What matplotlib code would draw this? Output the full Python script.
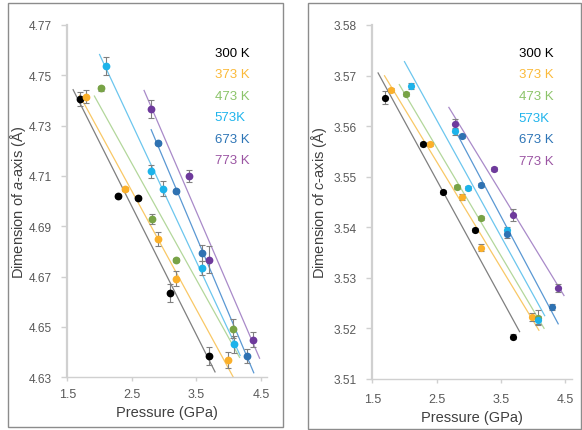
import numpy as np
import matplotlib
matplotlib.use("Agg")
import matplotlib.pyplot as plt
from matplotlib.patches import Rectangle

plt.rcParams['font.family'] = ['Liberation Sans', 'DejaVu Sans']
plt.rcParams['mathtext.fontset'] = 'custom'
plt.rcParams['mathtext.rm'] = 'Liberation Sans'
plt.rcParams['mathtext.it'] = 'Liberation Sans:italic'

# ---- data ----
temps = ["300 K", "373 K", "473 K", "573K", "673 K", "773 K"]

P300 = [1.69, 2.29, 2.60, 3.09, 3.69]
P373 = [1.79, 2.39, 2.90, 3.19, 3.99]
P473 = [2.02, 2.81, 3.19, 4.07]
P573 = [2.10, 2.79, 2.99, 3.59, 4.08]
P673 = [2.90, 3.19, 3.59, 4.29]
P773 = [2.79, 3.39, 3.69, 4.38]

a300 = [4.7406, 4.7019, 4.7013, 4.6634, 4.6385]
a373 = [4.7415, 4.7048, 4.6851, 4.6692, 4.6367]
a473 = [4.7448, 4.6928, 4.6766, 4.6493]
a573 = [4.7537, 4.7118, 4.7050, 4.6733, 4.6431]
a673 = [4.7233, 4.7041, 4.6794, 4.6385]
a773 = [4.7366, 4.7101, 4.6768, 4.6450]

ea300 = [0.0029, 0.0008, 0.0008, 0.0035, 0.0036]
ea373 = [0.0025, 0.0008, 0.0028, 0.0030, 0.0032]
ea473 = [0.0010, 0.0020, 0.0008, 0.0037]
ea573 = [0.0037, 0.0027, 0.0030, 0.0028, 0.0034]
ea673 = [0.0008, 0.0008, 0.0033, 0.0027]
ea773 = [0.0035, 0.0024, 0.0053, 0.0029]

c300 = [3.5656, 3.5564, 3.5469, 3.5395, 3.5184]
c373 = [3.5672, 3.5565, 3.5460, 3.5360, 3.5223]
c473 = [3.5664, 3.5480, 3.5419, 3.5221]
c573 = [3.5679, 3.5590, 3.5478, 3.5395, 3.5217]
c673 = [3.5581, 3.5484, 3.5387, 3.5242]
c773 = [3.5604, 3.5515, 3.5424, 3.5280]

ec300 = [0.0013, 0.0004, 0.0004, 0.0004, 0.0004]
ec373 = [0.0004, 0.0004, 0.0006, 0.0006, 0.0008]
ec473 = [0.0004, 0.0004, 0.0004, 0.0015]
ec573 = [0.0006, 0.0007, 0.0004, 0.0006, 0.0008]
ec673 = [0.0004, 0.0004, 0.0008, 0.0006]
ec773 = [0.0010, 0.0004, 0.0012, 0.0008]

trend_extend = 0.1  # GPa forward/backward forecast of trendlines

pressures = [P300, P373, P473, P573, P673, P773]
a_vals = [a300, a373, a473, a573, a673, a773]
a_errs = [ea300, ea373, ea473, ea573, ea673, ea773]
c_vals = [c300, c373, c473, c573, c673, c773]
c_errs = [ec300, ec373, ec473, ec573, ec673, ec773]

# ---- styles ----
marker_colors = ['#000000', '#FBB02A', '#78A346', '#1DB3EA', '#2F72B2', '#6E3A9C']
line_colors = ['#7F7F7F', '#F9C866', '#B3D79B', '#6CC6EE', '#5A98D3', '#A98AC9']
text_colors = ['#000000', '#FBBA3A', '#8CC46A', '#1FB4EC', '#2E75B6', '#9B55A3']
tick_color = '#595959'
axis_color = '#D0D0D0'

W, H = 582, 431
fig = plt.figure(figsize=(W / 100, H / 100), dpi=100)

# panel borders
for (x0, y0, x1, y1) in [(7.5, 4, 282.5, 427.5), (307.5, 4, 580.5, 429.5)]:
    fig.patches.append(Rectangle((x0 / W, 1 - y1 / H), (x1 - x0) / W, (y1 - y0) / H,
                                 transform=fig.transFigure, fill=False,
                                 edgecolor='#8C8C8C', linewidth=1.0))

def make_panel(rect, vals, errs, ylim, yticks, ylabel, ypad, ylabel_x, msize,
               xpad, xlabelpad):
    ax = fig.add_axes(rect)
    for i in range(6):
        P = np.array(pressures[i])
        v = np.array(vals[i])
        k, b = np.polyfit(P, v, 1)
        xs = np.array([P.min() - trend_extend, P.max() + trend_extend])
        ax.plot(xs, k * xs + b, color=line_colors[i], lw=0.9, zorder=2)
        ax.errorbar(P, v, yerr=errs[i], fmt='none', ecolor='#808080',
                    elinewidth=0.8, capsize=2, capthick=0.8, zorder=3)
        ax.plot(P, v, 'o', color=marker_colors[i], markersize=msize,
                markeredgewidth=0, zorder=4)
    ax.set_xlim(1.5, 4.6)
    ax.set_ylim(*ylim)
    ax.set_xticks([1.5, 2.5, 3.5, 4.5])
    ax.set_xticklabels(['1.5', '2.5', '3.5', '4.5'])
    ax.set_yticks(yticks)
    ax.set_yticklabels([f'{t:.2f}' for t in yticks])
    for s in ['top', 'right']:
        ax.spines[s].set_visible(False)
    ax.spines['left'].set_color(axis_color)
    ax.spines['left'].set_linewidth(1.6)
    ax.spines['bottom'].set_color(axis_color)
    ax.spines['bottom'].set_linewidth(1.0)
    ax.tick_params(axis='y', direction='out', length=4, width=1.0, color=axis_color,
                   labelsize=8.6, labelcolor=tick_color, pad=ypad)
    ax.tick_params(axis='x', direction='out', length=3, width=1.0, color=axis_color,
                   labelsize=9, labelcolor=tick_color, pad=xpad)
    ax.set_xlabel('Pressure (GPa)', fontsize=10.5, color='#404040', labelpad=xlabelpad)
    ax.set_ylabel(ylabel, fontsize=10.5, color='#404040')
    ax.yaxis.set_label_coords(ylabel_x, 0.5)
    ax.patch.set_alpha(0)
    return ax

axL = make_panel([67.3 / W, 1 - 378.3 / H, 200 / W, 352.3 / H], a_vals, a_errs,
                 (4.63, 4.77), [4.63, 4.65, 4.67, 4.69, 4.71, 4.73, 4.75, 4.77],
                 'Dimension of $a$-axis (Å)', 7, -0.195, 5.6, 5, 3)
axR = make_panel([372.3 / W, 1 - 380 / H, 199.4 / W, 354 / H], c_vals, c_errs,
                 (3.51, 3.58), [3.51, 3.52, 3.53, 3.54, 3.55, 3.56, 3.57, 3.58],
                 'Dimension of $c$-axis (Å)', 7.5, -0.215, 5.2, 7, 4)

for ax, x0, y0 in [(axL, 0.738, 0.9205), (axR, 0.734, 0.921)]:
    for i, t in enumerate(temps):
        ax.text(x0, y0 - i * 0.0608, t, transform=ax.transAxes, color=text_colors[i],
                fontsize=9.5, ha='left', va='center')

fig.savefig('out.png', dpi=100)
